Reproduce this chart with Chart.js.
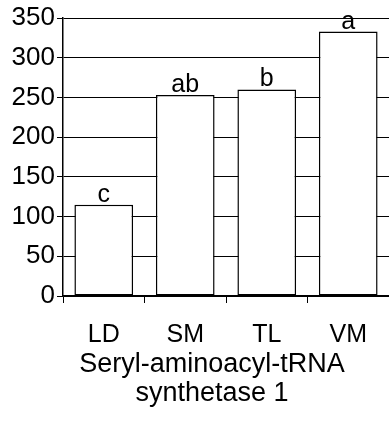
<!DOCTYPE html>
<html lang="en">
<head>
    <meta charset="UTF-8" />
    <title>Seryl-aminoacyl-tRNA synthetase 1</title>
    <script src="https://cdn.jsdelivr.net/npm/chart.js"></script>
    <style>
        html, body { margin: 0; padding: 0; background: #fff; overflow: hidden; }
        #wrap { width: 389px; height: 421px; position: relative; }
        #caption {
            position: absolute;
            left: 0;
            top: 349px;
            width: 424px;
            text-align: center;
            font-family: 'Liberation Sans', Arial, sans-serif;
            font-size: 27px;
            line-height: 29px;
            color: #000;
        }
    </style>
</head>
<body>
<div id="wrap">
    <canvas id="serChart"></canvas>
    <div id="caption"></div>
</div>

<script>
    // data
    const groups = ['LD', 'SM', 'TL', 'VM'];
    const activity = [115, 253, 260, 333];
    const letters = ['c', 'ab', 'b', 'a'];
    const titleLines = ['Seryl-aminoacyl-tRNA', 'synthetase 1'];

    // axis title sits a bit right of the plot centre in the original, so it is plain text under the canvas
    document.getElementById('caption').innerHTML = titleLines.join('<br>');

    Chart.defaults.font.family = "'Liberation Sans', Arial, sans-serif";
    Chart.defaults.color = '#000';

    // letters above each bar
    const letterPlugin = {
        id: 'letters',
        afterDatasetsDraw(chart) {
            const ctx = chart.ctx;
            const meta = chart.getDatasetMeta(0);
            ctx.save();
            ctx.font = "25px 'Liberation Sans', Arial, sans-serif";
            ctx.fillStyle = '#000';
            ctx.textAlign = 'center';
            ctx.textBaseline = 'alphabetic';
            meta.data.forEach(function(bar, i) {
                ctx.fillText(letters[i], bar.x, bar.y - 3);
            });
            ctx.restore();
        }
    };

    const ctx = document.getElementById('serChart').getContext('2d');
    new Chart(ctx, {
        type: 'bar',
        data: {
            labels: groups,
            datasets: [{
                data: activity,
                backgroundColor: '#fff',
                borderColor: '#000',
                borderWidth: 1.5,
                borderSkipped: false,
                categoryPercentage: 1,
                barPercentage: 0.72
            }]
        },
        options: {
            responsive: true,
            maintainAspectRatio: false,
            animation: false,
            layout: { padding: { left: 0, top: 18, right: 0, bottom: 0 } },
            plugins: {
                legend: { display: false },
                tooltip: { enabled: false }
            },
            scales: {
                x: {
                    grid: {
                        drawOnChartArea: false,
                        drawTicks: true,
                        tickLength: 7,
                        color: '#000',
                        lineWidth: 1
                    },
                    border: { display: true, color: '#000', width: 1.5 },
                    ticks: { font: { size: 25 }, padding: 17, color: '#000' },
                    afterFit(scale) { scale.height = 125; }
                },
                y: {
                    min: 0,
                    max: 350,
                    ticks: { stepSize: 50, font: { size: 26 }, padding: 2, color: '#000' },
                    grid: { color: '#000', lineWidth: 1, tickLength: 6 },
                    border: { display: true, color: '#000', width: 1.5 },
                    afterFit(scale) { scale.width = 63; }
                }
            }
        },
        plugins: [letterPlugin]
    });
</script>
</body>
</html>
